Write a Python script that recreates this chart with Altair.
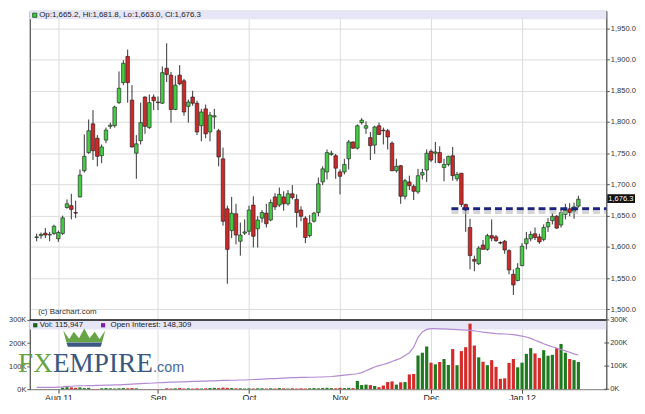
import altair as alt
import pandas as pd

# ---------------- data ----------------
opens = [1615, 1618, 1622, 1619, 1621.5, 1613, 1621.5, 1663, 1666, 1655,
         1680, 1722, 1751, 1797, 1774, 1746, 1771, 1793, 1794, 1831,
         1863, 1905, 1835, 1750, 1770, 1840, 1791, 1840, 1832, 1830,
         1886, 1875, 1820, 1875, 1866, 1825, 1840, 1830, 1794, 1821,
         1784, 1808, 1786, 1741, 1661, 1626, 1653, 1609, 1622, 1625,
         1667, 1629, 1646, 1654, 1643, 1680, 1667, 1680, 1669, 1685,
         1676, 1659, 1646, 1618, 1641, 1655, 1704, 1720, 1748, 1746,
         1720, 1720, 1741, 1768, 1758, 1799, 1790, 1775, 1763, 1794,
         1787, 1786, 1766, 1722, 1730, 1681, 1704, 1697, 1688, 1715,
         1723, 1753, 1750, 1751, 1727, 1732, 1746, 1709, 1718, 1668,
         1631, 1580, 1573, 1603, 1596, 1618, 1616, 1607, 1609, 1594,
         1556, 1546, 1570, 1605, 1613, 1621, 1616, 1612, 1632, 1642,
         1649, 1635, 1652, 1661, 1657, 1665.2]
highs = [1621, 1623, 1630, 1624, 1635.5, 1626, 1650, 1676, 1685, 1674,
         1724, 1780, 1804, 1819, 1779, 1764, 1791, 1799, 1826, 1881,
         1899, 1916, 1859, 1779, 1831, 1841, 1844, 1844, 1841, 1889,
         1926, 1880, 1874, 1891, 1869, 1836, 1850, 1834, 1821, 1828,
         1816, 1821, 1789, 1759, 1666, 1680, 1669, 1639, 1644, 1666,
         1681, 1649, 1659, 1669, 1676, 1686, 1695, 1689, 1691, 1699,
         1684, 1665, 1649, 1651, 1656, 1711, 1729, 1756, 1754, 1749,
         1724, 1741, 1771, 1769, 1796, 1806, 1801, 1784, 1794, 1799,
         1791, 1789, 1769, 1741, 1731, 1709, 1714, 1700, 1725, 1725,
         1756, 1756, 1768, 1761, 1741, 1746, 1760, 1720, 1718, 1669,
         1645, 1586, 1601, 1611, 1621, 1644, 1619, 1609, 1611, 1596,
         1564, 1574, 1606, 1624, 1625, 1631, 1621, 1636, 1646, 1654,
         1651, 1661, 1669, 1670, 1671, 1681.8]
lows = [1609, 1613, 1614, 1609, 1619, 1608, 1619, 1661, 1644, 1646,
        1679, 1719, 1749, 1739, 1729, 1734, 1766, 1789, 1791, 1829,
        1859, 1831, 1759, 1709, 1764, 1781, 1789, 1819, 1819, 1829,
        1864, 1799, 1819, 1859, 1810, 1799, 1826, 1779, 1769, 1774,
        1769, 1789, 1729, 1634, 1541, 1614, 1604, 1586, 1619, 1619,
        1599, 1599, 1639, 1631, 1641, 1659, 1664, 1658, 1666, 1676,
        1631, 1641, 1606, 1615, 1639, 1649, 1699, 1708, 1746, 1709,
        1684, 1716, 1724, 1757, 1756, 1796, 1781, 1739, 1749, 1779,
        1764, 1756, 1721, 1719, 1669, 1676, 1691, 1675, 1685, 1708,
        1704, 1736, 1734, 1734, 1705, 1729, 1706, 1705, 1664, 1624,
        1564, 1561, 1571, 1596, 1594, 1609, 1608, 1604, 1589, 1556,
        1523, 1545, 1569, 1596, 1609, 1611, 1605, 1609, 1624, 1636,
        1629, 1631, 1644, 1649, 1645, 1663.0]
closes = [1616, 1620, 1619, 1620, 1633, 1623, 1646.5, 1669, 1660, 1654,
          1715, 1745, 1786, 1754, 1745, 1760, 1787, 1795, 1824, 1854,
          1894, 1863, 1760, 1765, 1799, 1793, 1831, 1834, 1831, 1879,
          1876, 1820, 1859, 1861, 1816, 1832, 1830, 1784, 1816, 1781,
          1811, 1810, 1744, 1641, 1596, 1654, 1619, 1619, 1624, 1659,
          1617, 1643, 1655, 1637, 1671, 1664, 1684, 1669, 1685, 1679,
          1655, 1649, 1615, 1638, 1654, 1701, 1725, 1751, 1750, 1726,
          1713, 1732, 1768, 1758, 1794, 1803, 1794, 1762, 1792, 1780,
          1786, 1776, 1722, 1729, 1681, 1706, 1698, 1689, 1714, 1719,
          1750, 1739, 1752, 1735, 1732, 1745, 1714, 1716, 1668, 1659,
          1586, 1577, 1598, 1596, 1618, 1614, 1610, 1606, 1595, 1563,
          1539, 1566, 1601, 1613, 1620, 1615, 1608, 1631, 1639, 1649,
          1630, 1655, 1659, 1655, 1664, 1676.3]
volume_k = [1, 1, 1, 1, 1, 1,
            7, 9, 8, 6, 8, 5, 6,
            1, 1,
            4, 5, 4, 3, 4, 5, 4, 5, 4,
            1, 1, 1, 1, 1, 1,
            4, 3, 4, 5, 3, 4, 3, 4, 3, 4, 5,
            6, 5, 7, 6, 5, 4,
            4, 3, 4, 3, 4, 4, 3, 4, 3, 5, 4, 3, 4, 3, 4, 3, 4,
            5, 4, 5, 6, 5, 4, 6, 5, 6, 5,
            36, 18, 20, 18, 14, 9, 16, 31, 34, 20,
            30, 31, 64, 66, 146, 158, 185, 115, 108, 118,
            131, 105, 174, 104, 165, 182, 284, 189, 138, 119,
            104, 126, 97, 45, 47, 114, 131, 95, 115, 153,
            178, 155, 135, 169, 145, 149, 178, 196, 158, 131,
            126, 118]
open_interest_k = [8, 8, 8, 8, 8, 9, 10, 12, 13, 14,
                   15, 15, 16, 16, 17, 17, 18, 18, 19, 19,
                   20, 21, 22, 23, 24, 25, 26, 27, 28, 29,
                   30, 31, 31, 32, 32, 33, 34, 34, 35, 35,
                   36, 36, 37, 38, 38, 39, 39, 40, 40, 41,
                   42, 43, 44, 45, 46, 46, 47, 48, 49, 50,
                   50, 51, 51, 52, 52, 53, 53, 54, 55, 57,
                   59, 61, 63, 65, 67, 72, 80, 88, 96, 102,
                   107, 113, 120, 127, 134, 146, 158, 182, 225, 248,
                   259, 262, 262, 261, 261, 260, 259, 258, 257, 256,
                   255, 253, 250, 247, 245, 243, 241, 240, 239, 238,
                   236, 233, 230, 226, 220, 212, 205, 197, 190, 184,
                   178, 172, 166, 160, 153, 148]

month_ticks = [5, 28, 49, 70, 91, 112]
month_labels = ["Aug 11", "Sep", "Oct", "Nov", "Dec", "Jan 12"]
price_ticks = [1500, 1550, 1600, 1650, 1700, 1750, 1800, 1850, 1900, 1950]
vol_ticks = [0, 100000, 200000, 300000]
vol_tick_labels = ["0K", "100K", "200K", "300K"]

header_values = ["1,665.2", "1,681.8", "1,663.0", "1,676.3"]
last_price = 1676.3
last_price_label = "1,676.3"
resistance_level = 1661
resistance_start = 95.7
vol_last = "115,947"
oi_last = "148,309"

# ---------------- layout / style ----------------
W, H = 582, 382
X_DOMAIN = [-0.44, 130.3]
PRICE_DOMAIN = [1372, 1978]
VOL_DOMAIN = [0, 1637900]

GREEN = "#45cb45"
RED = "#c92a2a"
VGREEN = "#1f7a1f"
VRED = "#d52b2b"
BAND = "#e6e6f6"
GRID = "#dcdcdc"
FONT = "Liberation Sans"

n = len(opens)
df = pd.DataFrame({
    "i": list(range(n)), "open": opens, "high": highs, "low": lows,
    "close": closes,
    "vol": [v * 1000 for v in volume_k],
    "oi": [v * 1000 for v in open_interest_k],
})
df["up"] = df["close"] >= df["open"]

month_expr = " : ".join(
    f"datum.value == {t} ? '{l}'" for t, l in zip(month_ticks, month_labels)
) + " : ''"

x_scale = alt.Scale(domain=X_DOMAIN, nice=False, zero=False)
x_axis = alt.Axis(values=month_ticks, labelExpr=month_expr, grid=True,
                  gridColor=GRID, tickSize=4, tickColor="#444",
                  labelFontSize=9, labelPadding=0, domain=False,
                  title=None, labelColor="#222")
x_enc = alt.X("i:Q", scale=x_scale, axis=x_axis)

price_scale = alt.Scale(domain=PRICE_DOMAIN, nice=False, zero=False)
price_axis = alt.Axis(orient="right", values=price_ticks, format=",.1f",
                      grid=True, gridColor=GRID, tickSize=3, tickColor="#555",
                      labelFontSize=7.6, labelPadding=1, domainColor="#555",
                      title=None, labelColor="#333")
vol_scale = alt.Scale(domain=VOL_DOMAIN, nice=False, zero=True)
vol_axis = alt.Axis(orient="left", values=vol_ticks,
                    labelExpr="datum.value / 1000 + 'K'", grid=False,
                    tickSize=3, tickColor="#555", labelFontSize=7.5,
                    labelPadding=1, domainColor="#555", title=None,
                    labelColor="#333")


def ydm(v):
    return alt.YDatum(v, scale=price_scale, axis=price_axis)


def ydv(v):
    return alt.YDatum(v, scale=vol_scale, axis=vol_axis)


def xd(v):
    return alt.XDatum(v, scale=x_scale, axis=x_axis)


one = pd.DataFrame({"k": [0]})
deco = alt.Chart(one)
base = alt.Chart(df)

# ---------------- price panel ----------------
main_band = deco.mark_rect(color=BAND).encode(
    x=alt.value(0), x2=alt.value(W), y=ydm(1978), y2=alt.datum(1964.5))
wick = base.mark_rule(color="#333", strokeWidth=1).encode(
    x=x_enc, y=alt.Y("low:Q", scale=price_scale, axis=price_axis), y2="high:Q")
body = base.mark_bar(size=3.6, stroke="#1a1a1a", strokeWidth=0.6).encode(
    x=x_enc, y=alt.Y("open:Q", scale=price_scale, axis=price_axis), y2="close:Q",
    color=alt.condition(alt.datum.up, alt.value(GREEN), alt.value(RED)))
shadow = deco.mark_rule(color="#b9b9b9", strokeWidth=3, strokeDash=[7, 4],
                        opacity=0.6).encode(
    x=xd(resistance_start), x2=alt.value(W), y=ydm(resistance_level - 6))
dash = deco.mark_rule(color="#1c237a", strokeWidth=3, strokeDash=[7, 4]).encode(
    x=xd(resistance_start), x2=alt.value(W), y=ydm(resistance_level))
head_sq = deco.mark_square(size=18, color="#3cc63c", stroke="#155515",
                           strokeWidth=0.8, opacity=1).encode(
    x=alt.value(5), y=ydm(1971))
head_txt = deco.mark_text(align="left", baseline="middle", fontSize=8,
                          color="#222", font=FONT).encode(
    x=alt.value(9.5), y=ydm(1971),
    text=alt.value(f"Op:{header_values[0]}, Hi:{header_values[1]}, "
                   f"Lo:{header_values[2]}, Cl:{header_values[3]}"))
credit = deco.mark_text(align="left", baseline="middle", fontSize=8,
                        color="#333", font=FONT).encode(
    x=alt.value(8.5), y=ydm(1495.5), text=alt.value("(c) Barchart.com"))
price_box = deco.mark_rect(color="#111").encode(
    x=alt.value(W + 1), x2=alt.value(W + 29),
    y=ydm(last_price + 8), y2=alt.datum(last_price - 6))
price_txt = deco.mark_text(align="left", baseline="middle", fontSize=7.6,
                           color="white", font=FONT).encode(
    x=alt.value(W + 2), y=ydm(last_price + 1), text=alt.value(last_price_label))

main = alt.layer(main_band, wick, body, shadow, dash, head_sq, head_txt,
                 credit, price_box, price_txt)

# ---------------- volume panel ----------------
vol_band = deco.mark_rect(color=BAND).encode(
    x=alt.value(0), x2=alt.value(W), y=ydv(300000), y2=alt.datum(259000))
bars = base.mark_bar(size=3.2).encode(
    x=x_enc, y=alt.Y("vol:Q", scale=vol_scale, axis=vol_axis),
    color=alt.condition(alt.datum.up, alt.value(VGREEN), alt.value(VRED)))
oi_line = base.mark_line(color="#b48bd2", strokeWidth=1.2).encode(
    x=x_enc, y=alt.Y("oi:Q", scale=vol_scale, axis=vol_axis))
separator = deco.mark_rule(color="#111", strokeWidth=1.6).encode(
    x=alt.value(0), x2=alt.value(W), y=ydv(300000))
leg_vol_sq = deco.mark_square(size=18, color="#1b5e20", opacity=1).encode(
    x=alt.value(5.5), y=ydv(277000))
leg_vol_txt = deco.mark_text(align="left", baseline="middle", fontSize=8,
                             color="#222", font=FONT).encode(
    x=alt.value(10), y=ydv(277000), text=alt.value(f"Vol: {vol_last}"))
leg_oi_sq = deco.mark_square(size=18, color="#7b1fa2", opacity=1).encode(
    x=alt.value(74), y=ydv(277000))
leg_oi_txt = deco.mark_text(align="left", baseline="middle", fontSize=8,
                            color="#222", font=FONT).encode(
    x=alt.value(81.5), y=ydv(277000),
    text=alt.value(f"Open Interest: {oi_last}"))

vt = pd.DataFrame({"v": vol_ticks, "t": vol_tick_labels})
rticks = alt.Chart(vt).mark_rule(color="#555").encode(
    x=alt.value(W - 2), x2=alt.value(W + 3),
    y=alt.Y("v:Q", scale=vol_scale, axis=vol_axis))
rlabels = alt.Chart(vt).mark_text(align="left", baseline="middle", fontSize=7.5,
                                  color="#333", font=FONT).encode(
    x=alt.value(W + 4), y=alt.Y("v:Q", scale=vol_scale, axis=vol_axis),
    text="t:N")

crown_top = ("M-1,-0.35 L-0.72,0.05 L-0.5,-0.3 L-0.25,0.02 L0,-0.45 L0.25,0.02 "
             "L0.5,-0.3 L0.72,0.05 L1,-0.35 L0.85,0.2 L-0.85,0.2 Z")
crown_base = "M-0.85,0.22 L0.85,0.22 L0.78,0.42 L-0.78,0.42 Z"
crown1 = deco.mark_point(shape=crown_top, size=1800, filled=True,
                         color="#5e9f3c", opacity=0.95).encode(
    x=alt.value(55), y=ydv(222000))
crown2 = deco.mark_point(shape=crown_base, size=1800, filled=True,
                         color="#2f4f7a", opacity=0.95).encode(
    x=alt.value(55), y=ydv(222000))
logo_fx = deco.mark_text(align="left", baseline="alphabetic", fontSize=27.5,
                         font="Liberation Serif", color="#5e9f3c",
                         opacity=0.95).encode(
    x=alt.value(-11.8), y=ydv(73000), text=alt.value("FX"))
logo_emp = deco.mark_text(align="left", baseline="alphabetic", fontSize=27.5,
                          font="Liberation Serif", color="#2f4f7a",
                          opacity=0.95).encode(
    x=alt.value(23.4), y=ydv(73000), text=alt.value("EMPIRE"))
logo_com = deco.mark_text(align="left", baseline="alphabetic", fontSize=14.5,
                          font=FONT, color="#3a6397", opacity=0.95).encode(
    x=alt.value(124.5), y=ydv(73000), text=alt.value(".com"))

vol = alt.layer(vol_band, bars, oi_line, separator, leg_vol_sq, leg_vol_txt,
                leg_oi_sq, leg_oi_txt, rticks, rlabels,
                crown1, crown2, logo_fx, logo_emp, logo_com)

chart = alt.layer(main, vol).resolve_scale(y="independent").properties(
    width=W, height=H,
    padding={"left": 22, "top": 1, "right": 31, "bottom": 9},
    autosize=alt.AutoSizeParams(type="none"),
    background="white",
).configure(font=FONT).configure_view(stroke="#777", strokeWidth=1)

chart.save("out.html", embed_options={"renderer": "svg", "actions": False})
